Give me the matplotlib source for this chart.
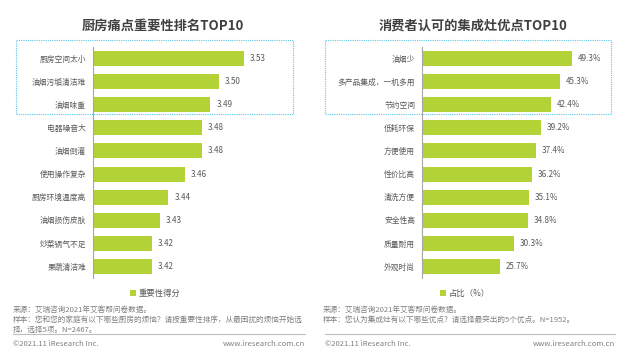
import matplotlib.pyplot as plt
from matplotlib.patches import Rectangle
from matplotlib.lines import Line2D

plt.rcParams['font.family'] = ['Noto Sans CJK SC', 'DejaVu Sans']

# left panel: kitchen pain points
pain_labels = ['厨房空间太小', '油烟污垢清洁难', '油烟味重', '电器噪音大', '油烟倒灌',
               '使用操作复杂', '厨房环境温度高', '油烟损伤皮肤', '炒菜锅气不足', '果蔬清洁难']
pain_scores = [3.53, 3.50, 3.49, 3.48, 3.48, 3.46, 3.44, 3.43, 3.42, 3.42]

# right panel: advantages of integrated stoves
adv_labels = ['油烟少', '多产品集成，一机多用', '节约空间', '低耗环保', '方便使用',
              '性价比高', '清洗方便', '安全性高', '质量耐用', '外观时尚']
adv_share = [49.3, 45.3, 42.4, 39.2, 37.4, 36.2, 35.1, 34.8, 30.3, 25.7]

W, H = 630, 353
BAR = '#b2d235'
TXT = '#595959'
GREY = '#808080'
BOX = '#5bc8e8'

fig = plt.figure(figsize=(W / 100, H / 100), dpi=100)


def px_axes(x0, x1, y0, y1):
    # pixel box (top-left origin) -> figure axes
    return fig.add_axes([x0 / W, 1 - y1 / H, (x1 - x0) / W, (y1 - y0) / H])


def draw_panel(ax, labels, values, xlim, fmt, legend_label):
    ys = list(range(len(labels)))
    bars = ax.barh(ys, values, height=0.65, color=BAR, label=legend_label)
    ax.set_xlim(*xlim)
    ax.set_ylim(len(labels) - 0.5, -0.5)
    ax.set_yticks(ys)
    ax.set_yticklabels(labels, fontsize=5.6, color=TXT)
    ax.set_xticks([])
    ax.tick_params(axis='y', length=0, pad=5)
    for s in ['top', 'right', 'bottom']:
        ax.spines[s].set_visible(False)
    ax.spines['left'].set_color('#a6a6a6')
    ax.spines['left'].set_linewidth(0.8)
    span = xlim[1] - xlim[0]
    for b, v in zip(bars, values):
        ax.text(b.get_width() + span * 0.03, b.get_y() + b.get_height() / 2,
                fmt.format(v), va='center', ha='left', fontsize=5.8, color=TXT)
    return bars


ax1 = px_axes(93, 290, 47, 278)
draw_panel(ax1, pain_labels, pain_scores, (3.35, 3.585), '{:.2f}', '重要性得分')
ax2 = px_axes(422, 610, 47, 278)
draw_panel(ax2, adv_labels, adv_share, (0, 61.8), '{:.1f}%', '占比（%）')

# titles
fig.text(163 / W, 1 - 26 / H, '厨房痛点重要性排名TOP10', ha='center', va='center',
         fontsize=9.5, fontweight='bold', color='#404040')
fig.text(473 / W, 1 - 26 / H, '消费者认可的集成灶优点TOP10', ha='center', va='center',
         fontsize=9.5, fontweight='bold', color='#404040')

# dotted highlight boxes around top 3
for x0, x1 in [(16, 293), (325, 611)]:
    fig.patches.append(Rectangle((x0 / W, 1 - 114 / H), (x1 - x0) / W, 74 / H,
                                 transform=fig.transFigure, fill=False,
                                 edgecolor=BOX, linestyle=(0, (1, 1)), lw=0.8))

# legends
for ax, xc in [(ax1, 155), (ax2, 465)]:
    ax.legend(loc='center', bbox_to_anchor=(xc / W, 1 - 293 / H),
              bbox_transform=fig.transFigure, frameon=False, fontsize=6,
              handlelength=0.7, handleheight=0.7, handletextpad=0.3,
              labelcolor=TXT)

# footnotes
notes_left = ['来源：艾瑞咨询2021年艾客帮问卷数据。',
              '样本：您和您的家庭有以下哪些厨房的烦恼？请按重要性排序，从最困扰的烦恼开始选',
              '择，选择5项。N=2467。']
notes_right = ['来源：艾瑞咨询2021年艾客帮问卷数据。',
               '样本：您认为集成灶有以下哪些优点？请选择最突出的5个优点。N=1952。']
for i, t in enumerate(notes_left):
    fig.text(13 / W, 1 - (310 + 10 * i) / H, t, fontsize=5.5, color=GREY, va='center')
for i, t in enumerate(notes_right):
    fig.text(323 / W, 1 - (310 + 10 * i) / H, t, fontsize=5.5, color=GREY, va='center')

for x0, x1 in [(13, 305), (325, 615)]:
    fig.lines.append(Line2D([x0 / W, x1 / W], [1 - 334 / H] * 2,
                            transform=fig.transFigure, color='#bfbfbf', lw=0.8))
    fig.text(x0 / W, 1 - 344 / H, '©2021.11 iResearch Inc.', fontsize=5.5,
             color=GREY, va='center', ha='left')
    fig.text(x1 / W, 1 - 344 / H, 'www.iresearch.com.cn', fontsize=5.5,
             color=GREY, va='center', ha='right')

fig.savefig('out.png', dpi=100, facecolor='white')
